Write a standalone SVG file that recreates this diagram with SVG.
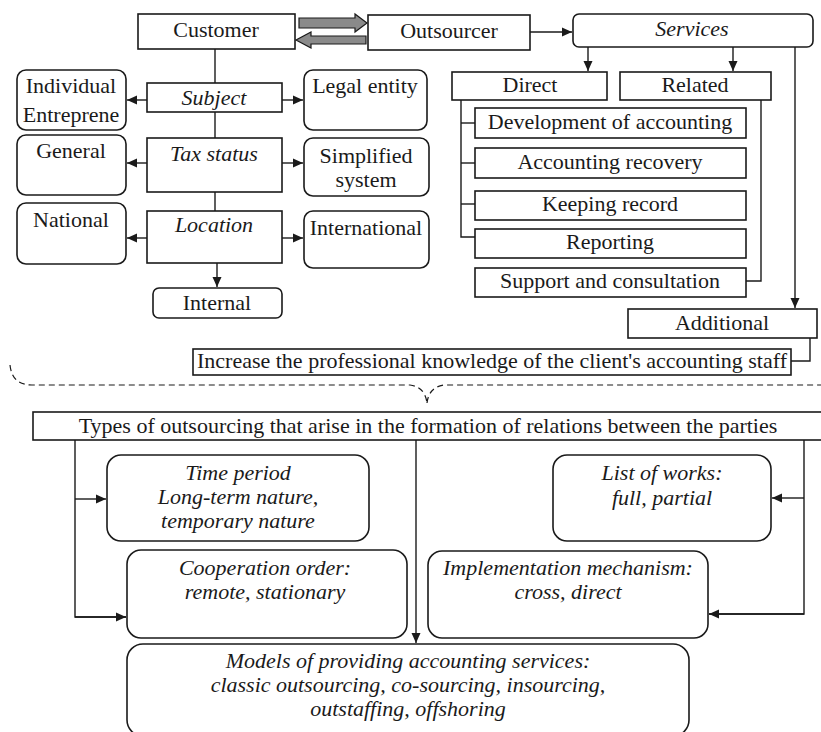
<svg xmlns="http://www.w3.org/2000/svg" width="821" height="732" viewBox="0 0 821 732">
<defs>
<marker id="ah" markerWidth="11" markerHeight="11" refX="10" refY="5" orient="auto" markerUnits="userSpaceOnUse">
<path d="M0,0.5 L10,5 L0,9.5 Z" fill="#1a1a1a"/>
</marker>
<style>
.b{fill:#fff;stroke:#1a1a1a;stroke-width:1.6}
text{font-family:'Liberation Serif','Times New Roman',serif;font-size:22px;fill:#1a1a1a;text-anchor:middle}
.i{font-style:italic}
.c{fill:none;stroke:#1a1a1a;stroke-width:1.4}
.a{fill:none;stroke:#1a1a1a;stroke-width:1.4;marker-end:url(#ah)}
.g{fill:#8a8a8a;stroke:#1a1a1a;stroke-width:1.2}
.d{fill:none;stroke:#1a1a1a;stroke-width:1.2;stroke-dasharray:6,4}
</style>
</defs>
<rect width="821" height="732" fill="#fff"/>

<g id="connectors">
<line class="c" x1="215" y1="49" x2="215" y2="83"/>
<line class="c" x1="215" y1="112" x2="215" y2="138"/>
<line class="c" x1="215" y1="192" x2="215" y2="211"/>
<line class="a" x1="147" y1="100" x2="127" y2="100"/>
<line class="a" x1="282" y1="100" x2="303" y2="100"/>
<line class="a" x1="147" y1="163" x2="127" y2="163"/>
<line class="a" x1="282" y1="163" x2="303" y2="163"/>
<line class="a" x1="147" y1="238" x2="127" y2="238"/>
<line class="a" x1="282" y1="238" x2="303" y2="238"/>
<line class="a" x1="217" y1="263" x2="217" y2="287"/>
<polygon class="g" points="299,18 355,18 355,14 367,23 355,32 355,28 299,28"/>
<polygon class="g" points="366,36 311,36 311,32 296,40 311,48 311,44 366,44"/>
<line class="a" x1="530" y1="32" x2="572" y2="32"/>
<line class="a" x1="588" y1="47" x2="588" y2="71"/>
<line class="a" x1="733" y1="47" x2="733" y2="71"/>
<line class="a" x1="795" y1="47" x2="795" y2="308"/>
<polyline class="c" points="461,100 461,237 475,237"/>
<line class="c" x1="461" y1="123" x2="475" y2="123"/>
<line class="c" x1="461" y1="163" x2="475" y2="163"/>
<line class="c" x1="461" y1="204" x2="475" y2="204"/>
<polyline class="c" points="761,100 761,281 746,281"/>
<polyline class="c" points="810,338 810,361 791,361"/>
<path class="d" d="M10,365 Q12,385 32,385 L410,385 Q425,387 427,403 M427,403 Q429,387 444,385 L821,385"/>
<polyline class="c" points="75,440 75,617 126,617"/>
<line class="a" x1="75" y1="499" x2="106" y2="499"/>
<line class="a" x1="75" y1="617" x2="126" y2="617"/>
<line class="a" x1="416" y1="440" x2="416" y2="643"/>
<polyline class="c" points="804,440 804,614 709,614"/>
<line class="a" x1="804" y1="498" x2="772" y2="498"/>
<line class="a" x1="804" y1="614" x2="709" y2="614"/>
</g>

<g id="customer"><rect class="b" x="138" y="14" width="157" height="35"/><text x="216" y="37">Customer</text></g>
<g id="outsourcer"><rect class="b" x="368" y="15" width="162" height="35"/><text x="449" y="38">Outsourcer</text></g>
<g id="subject"><rect class="b" x="147" y="83" width="135" height="29"/><text class="i" x="214" y="105">Subject</text></g>
<g id="individual"><rect class="b" x="17" y="70" width="109" height="60" rx="9"/><text x="71" y="93">Individual</text><text x="71" y="122">Entreprene</text></g>
<g id="legal"><rect class="b" x="304" y="70" width="123" height="60" rx="9"/><text x="365" y="93">Legal entity</text></g>
<g id="tax"><rect class="b" x="147" y="138" width="135" height="54"/><text class="i" x="214" y="161">Tax status</text></g>
<g id="general"><rect class="b" x="17" y="135" width="109" height="60" rx="9"/><text x="71" y="158">General</text></g>
<g id="simplified"><rect class="b" x="304" y="138" width="125" height="58" rx="9"/><text x="366" y="163">Simplified</text><text x="366" y="187">system</text></g>
<g id="location"><rect class="b" x="147" y="211" width="135" height="52"/><text class="i" x="214" y="232">Location</text></g>
<g id="national"><rect class="b" x="17" y="203" width="109" height="61" rx="9"/><text x="71" y="227">National</text></g>
<g id="international"><rect class="b" x="304" y="211" width="125" height="57" rx="9"/><text x="366" y="235">International</text></g>
<g id="internal"><rect class="b" x="153" y="288" width="129" height="30" rx="6"/><text x="217" y="310">Internal</text></g>

<g id="services"><rect class="b" x="573" y="14" width="240" height="33" rx="6"/><text class="i" x="692" y="36">Services</text></g>
<g id="direct"><rect class="b" x="452" y="72" width="155" height="28"/><text x="530" y="92">Direct</text></g>
<g id="related"><rect class="b" x="620" y="72" width="151" height="28"/><text x="695" y="92">Related</text></g>
<g id="development"><rect class="b" x="475" y="108" width="271" height="30"/><text x="610" y="129">Development of accounting</text></g>
<g id="recovery"><rect class="b" x="475" y="148" width="271" height="30"/><text x="610" y="169">Accounting recovery</text></g>
<g id="keeping"><rect class="b" x="475" y="191" width="271" height="29"/><text x="610" y="211">Keeping record</text></g>
<g id="reporting"><rect class="b" x="475" y="229" width="271" height="29"/><text x="610" y="249">Reporting</text></g>
<g id="support"><rect class="b" x="475" y="268" width="271" height="29"/><text x="610" y="288">Support and consultation</text></g>
<g id="additional"><rect class="b" x="628" y="309" width="189" height="29"/><text x="722" y="330">Additional</text></g>
<g id="increase"><rect class="b" x="193" y="349" width="598" height="26"/><text x="492" y="368">Increase the professional knowledge of the client's accounting staff</text></g>

<g id="types"><rect class="b" x="33" y="412" width="790" height="28"/><text x="428" y="433">Types of outsourcing that arise in the formation of relations between the parties</text></g>
<g id="time"><rect class="b" x="107" y="455" width="262" height="86" rx="14"/><text class="i" x="238" y="480">Time period</text><text class="i" x="238" y="504">Long-term nature,</text><text class="i" x="238" y="528">temporary nature</text></g>
<g id="listworks"><rect class="b" x="553" y="455" width="218" height="86" rx="14"/><text class="i" x="662" y="480">List of works:</text><text class="i" x="662" y="505">full, partial</text></g>
<g id="cooperation"><rect class="b" x="127" y="550" width="280" height="88" rx="14"/><text class="i" x="265" y="575">Cooperation order:</text><text class="i" x="265" y="599">remote, stationary</text></g>
<g id="implementation"><rect class="b" x="428" y="551" width="280" height="87" rx="14"/><text class="i" x="568" y="575">Implementation mechanism:</text><text class="i" x="568" y="599">cross, direct</text></g>
<g id="models"><rect class="b" x="127" y="644" width="562" height="92" rx="16"/><text class="i" x="408" y="668">Models of providing accounting services:</text><text class="i" x="408" y="692">classic outsourcing, co-sourcing, insourcing,</text><text class="i" x="408" y="716">outstaffing, offshoring</text></g>
</svg>
